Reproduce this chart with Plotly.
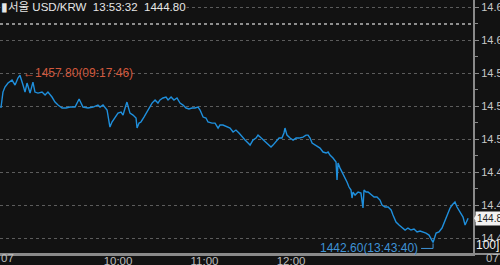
import plotly.graph_objects as go

# minutes since 08:30 (chart's tick-based time axis) and USD/KRW price
minutes = [8.8, 10.2, 11.6, 13.7, 16.5, 18.6, 20.6, 22.0, 24.1, 25.5, 26.9, 29.0, 31.0, 32.4, 34.5, 37.3,
           39.4, 41.4, 44.2, 46.3, 48.4, 51.2, 53.9, 56.7, 60.2, 63.0, 65.7, 69.2, 72.7, 76.1,
           77.5, 79.6, 82.4, 84.4, 85.8, 87.9, 90.0, 92.1, 93.5, 94.9, 96.2, 98.3, 100.4, 102.5, 103.2,
           104.6, 105.9, 108.0, 110.1, 112.2, 113.6, 115.7, 117.7, 119.1, 121.2, 123.3, 124.7, 126.8,
           128.8, 130.9, 133.0, 135.1, 137.2, 139.2, 141.3, 143.4, 145.5, 146.9, 149.0, 151.0, 152.4,
           155.2, 157.3, 159.4, 160.7, 162.8, 165.6, 167.7, 169.8, 171.8, 173.9, 176.0, 178.1, 180.2,
           181.6, 183.6, 185.7, 187.1, 189.2, 191.3, 192.7, 194.7, 196.1, 197.5, 199.6, 201.7, 203.7,
           205.1, 205.8, 207.2, 209.3, 211.4, 213.5, 215.5, 218.3, 220.4, 221.8, 223.2, 224.6, 226.6,
           228.7, 230.1, 232.2, 234.3, 235.7, 237.0, 239.1, 241.2, 241.9, 242.6, 244.0, 245.4, 247.4,
           248.8, 250.2, 251.6, 252.3, 253.0, 254.4, 256.5, 258.5, 259.9, 260.6, 262.0, 263.4, 265.5,
           267.6, 269.6, 271.7, 273.1, 275.2, 277.3, 279.4, 280.7, 282.8, 284.9, 287.0, 289.1, 291.1,
           293.2, 295.3, 297.4, 299.5, 301.5, 303.6, 305.7, 308.5, 310.6, 312.6, 314.7, 316.8, 318.9,
           320.3, 321.7, 323.0, 323.7, 325.1, 326.5, 327.9, 329.3, 330.7, 332.1, 332.8]
prices = [1454.82, 1456.27, 1456.73, 1457.09, 1457.36, 1456.91, 1457.55, 1457.80, 1456.91, 1456.27,
          1457.09, 1456.18, 1457.18, 1456.27, 1456.18, 1456.27, 1456.00, 1456.27, 1455.82, 1455.36,
          1455.09, 1454.82, 1454.82, 1454.91, 1454.91, 1455.64, 1454.91, 1454.82, 1454.91, 1455.09,
          1454.91, 1455.09, 1454.64, 1453.09, 1453.55, 1454.00, 1454.36, 1454.45, 1454.18, 1454.82,
          1455.36, 1454.36, 1454.18, 1453.91, 1453.00, 1453.45, 1453.55, 1454.00, 1454.45, 1454.91,
          1455.27, 1455.55, 1455.27, 1455.55, 1455.73, 1455.82, 1455.55, 1455.82, 1455.55, 1455.73,
          1455.27, 1455.09, 1454.82, 1454.73, 1454.82, 1454.82, 1454.91, 1454.64, 1454.00, 1453.91,
          1453.55, 1453.45, 1453.45, 1453.00, 1453.27, 1453.27, 1453.09, 1453.00, 1452.64, 1452.82,
          1452.55, 1452.18, 1451.91, 1451.64, 1451.45, 1451.91, 1452.09, 1452.36, 1452.09, 1451.91,
          1451.64, 1451.45, 1451.27, 1451.45, 1451.73, 1452.09, 1452.09, 1452.55, 1453.00, 1452.36,
          1452.09, 1451.91, 1452.09, 1452.09, 1452.18, 1452.36, 1452.36, 1452.09, 1451.64, 1451.45,
          1451.27, 1451.18, 1450.82, 1450.73, 1450.82, 1450.55, 1450.27, 1449.91, 1448.27, 1449.82,
          1449.36, 1449.00, 1448.55, 1448.09, 1447.64, 1447.36, 1446.64, 1447.18, 1446.91, 1447.18,
          1447.09, 1445.73, 1447.36, 1447.18, 1447.18, 1446.91, 1446.73, 1446.73, 1446.45, 1446.00,
          1445.82, 1445.82, 1445.55, 1445.09, 1444.45, 1444.18, 1443.91, 1443.73, 1443.91, 1443.73,
          1443.82, 1443.55, 1443.64, 1443.55, 1443.45, 1443.27, 1442.60, 1443.45, 1443.55, 1443.91,
          1444.64, 1445.27, 1445.73, 1446.00, 1446.18, 1446.27, 1445.82, 1445.55, 1445.27, 1444.91,
          1444.18, 1444.64, 1444.80]

x_tick_vals = [90, 150, 210]
x_tick_text = ["10:00", "11:00", "12:00"]
y_tick_vals = [1443, 1446, 1449, 1452, 1455, 1458, 1461, 1464]
y_tick_text = ["14.4", "14.4", "14.4", "14.5", "14.5", "14.5", "14.6", "14.6"]
prev_close = 1462.45

title_text = "서울 USD/KRW\u00a0\u00a013:53:32\u00a0\u00a01444.80"
high_idx = prices.index(max(prices))
low_idx = prices.index(min(prices))
high_label = "←1457.80(09:17:46)"
low_label = "1442.60(13:43:40)"
last_label = "144.8"

BG = "#121212"
BLUE = "#1f8fdc"
FONT = "Liberation Sans, Noto Sans CJK KR, sans-serif"

fig = go.Figure()
fig.add_trace(go.Scatter(x=minutes, y=prices, mode="lines",
                         line=dict(color=BLUE, width=1.4), hoverinfo="skip"))

minor_vals = [(a + b) / 2 for a, b in zip(y_tick_vals[:-1], y_tick_vals[1:])]

fig.update_layout(
    width=500, height=265,
    margin=dict(l=0, r=27, t=0, b=11),
    paper_bgcolor=BG, plot_bgcolor=BG,
    showlegend=False,
    font=dict(family=FONT, size=11, color="#c8c8c8"),
    xaxis=dict(range=[8.15, 336.2], tickmode="array", tickvals=x_tick_vals, ticktext=x_tick_text,
               showgrid=False, zeroline=False, showline=True, linecolor="#8a8a8a", linewidth=2,
               ticks="", tickfont=dict(size=11.5, color="#bdbdbd"), automargin=False,
               ticklabelstandoff=-5),
    yaxis=dict(range=[1441.55, 1464.64], side="right", tickmode="array", tickvals=y_tick_vals,
               ticktext=y_tick_text, showgrid=True, gridcolor="#5c5c5c", griddash="dot", gridwidth=1,
               zeroline=False, showline=True, linecolor="#8a8a8a", linewidth=2,
               ticks="outside", ticklen=4, tickcolor="#8a8a8a", automargin=False,
               ticklabelstandoff=0,
               tickfont=dict(size=11, color="#c8c8c8"),
               minor=dict(tickmode="array", tickvals=minor_vals, ticks="outside", ticklen=3,
                          tickcolor="#8a8a8a", showgrid=False)),
)

# previous close reference line
fig.add_shape(type="line", xref="paper", x0=0, x1=1, yref="y", y0=prev_close, y1=prev_close,
              line=dict(color="#b8b8b8", width=1.5, dash="dot"))
# extend bottom axis line under the right label column
fig.add_shape(type="line", xref="paper", x0=0, x1=1.06, yref="paper", y0=0, y1=0,
              line=dict(color="#8a8a8a", width=2))

# title
fig.add_annotation(xref="paper", yref="y", x=0, y=1464, xanchor="left", yanchor="middle",
                   text="▮" + title_text, showarrow=False, bgcolor=BG,
                   font=dict(size=11.5, color="#e6e6e6"), borderpad=0)
# high label
fig.add_annotation(x=minutes[high_idx], y=prices[high_idx], xanchor="left", yanchor="middle",
                   text=high_label, showarrow=False, xshift=1, yshift=2,
                   font=dict(size=12, color="#d2583c"))
# low label with bracket
fig.add_annotation(x=minutes[low_idx], y=prices[low_idx], xanchor="right", yanchor="middle",
                   text=low_label, showarrow=False, xshift=-13, yshift=-6,
                   font=dict(size=12, color="#3f93d6"))
fig.add_shape(type="line", xref="x", yref="y", xsizemode="pixel", ysizemode="pixel",
              xanchor=minutes[low_idx], yanchor=prices[low_idx], x0=-12, x1=0, y0=-6, y1=-6,
              line=dict(color="#3f93d6", width=1))
fig.add_shape(type="line", xref="x", yref="y", xsizemode="pixel", ysizemode="pixel",
              xanchor=minutes[low_idx], yanchor=prices[low_idx], x0=0, x1=0, y0=-6, y1=-1,
              line=dict(color="#3f93d6", width=1))

# last price tag on the right axis
fig.add_annotation(xref="paper", yref="y", x=1.004, y=prices[-1], xanchor="left", yanchor="middle",
                   text=last_label, showarrow=False, bgcolor="#f2f2f2", borderpad=1,
                   font=dict(size=10, color="#222222"))
fig.add_shape(type="path", xref="paper", yref="y", xsizemode="pixel", ysizemode="pixel",
              xanchor=1.0, yanchor=prices[-1], path="M1,0 L4,5 L4,-5 Z",
              fillcolor="#f2f2f2", line=dict(width=0))
# volume scale label
fig.add_annotation(xref="paper", yref="paper", x=1.0, y=0.0, xanchor="left", yanchor="bottom",
                   text="100]", showarrow=False, xshift=2, yshift=1, borderpad=0,
                   font=dict(size=12, color="#f0f0f0"))
# date labels at both ends
fig.add_annotation(xref="paper", yref="paper", x=0, y=0, xanchor="left", yanchor="top",
                   text="07", showarrow=False, yshift=3, borderpad=0,
                   font=dict(size=11.5, color="#bdbdbd"))
fig.add_annotation(xref="paper", yref="paper", x=1.057, y=0, xanchor="right", yanchor="top",
                   text="07", showarrow=False, yshift=3, borderpad=0,
                   font=dict(size=11.5, color="#bdbdbd"))

fig.write_html("out.html")
